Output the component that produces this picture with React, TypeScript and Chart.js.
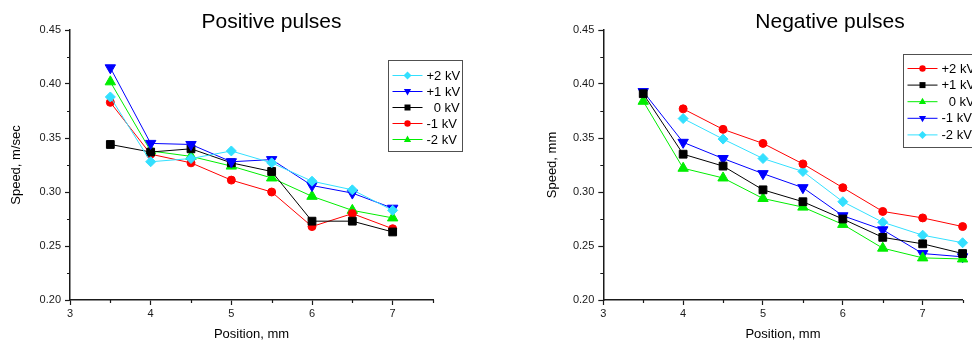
import React, { useEffect, useRef } from 'react';
import { Chart, registerables } from 'chart.js';

Chart.register(...registerables);

const FONT = 'Arial, "Liberation Sans", Helvetica, sans-serif';
const INK = '#1a1a1a';

// ---------- Data: Positive pulses (left) ----------
const positiveTitle = 'Positive pulses';
const positiveYTitle = 'Speed, m/sec';
const positivePositions = [3.5, 4, 4.5, 5, 5.5, 6, 6.5, 7];
const positiveLabels = ['+2 kV', '+1 kV', '  0 kV', '-1 kV', '-2 kV'];
const posPlus2kV = [0.388, 0.328, 0.331, 0.338, 0.327, 0.310, 0.302, 0.283];
const posPlus1kV = [0.415, 0.345, 0.344, 0.328, 0.330, 0.306, 0.299, 0.285];
const posZero = [0.344, 0.337, 0.340, 0.327, 0.319, 0.273, 0.273, 0.263];
const posMinus1kV = [0.383, 0.335, 0.327, 0.311, 0.300, 0.268, 0.280, 0.266];
const posMinus2kV = [0.402, 0.338, 0.333, 0.324, 0.313, 0.296, 0.283, 0.276];

// ---------- Data: Negative pulses (right) ----------
const negativeTitle = 'Negative pulses';
const negativeYTitle = 'Speed, mm';
const negativePositions = [3.5, 4, 4.5, 5, 5.5, 6, 6.5, 7, 7.5];
const negativeLabels = ['+2 kV', '+1 kV', '  0 kV', '-1 kV', '-2 kV'];
const negPlus2kV = [null, 0.377, 0.358, 0.345, 0.326, 0.304, 0.282, 0.276, 0.268];
const negPlus1kV = [0.391, 0.335, 0.324, 0.302, 0.291, 0.275, 0.258, 0.252, 0.243];
const negZero = [0.384, 0.322, 0.313, 0.294, 0.286, 0.270, 0.248, 0.239, 0.238];
const negMinus1kV = [0.393, 0.346, 0.331, 0.317, 0.304, 0.278, 0.265, 0.243, 0.240];
const negMinus2kV = [null, 0.368, 0.349, 0.331, 0.319, 0.291, 0.272, 0.260, 0.253];

// ---------- Axes ----------
const xAxisTitle = 'Position, mm';
const xLabelValues = [3, 4, 5, 6, 7];
const yLabelValues = [0.2, 0.25, 0.3, 0.35, 0.4, 0.45];

// ---------- Styles ----------
type Shape = 'diamond' | 'down' | 'square' | 'circle' | 'up';
const CYAN = '#33e0ff';
const BLUE = '#0000ff';
const BLACK = '#000000';
const RED = '#ff0000';
const GREEN = '#00ee00';

const positiveColors = [CYAN, BLUE, BLACK, RED, GREEN];
const positiveShapes: Shape[] = ['diamond', 'down', 'square', 'circle', 'up'];
const negativeColors = [RED, BLACK, GREEN, BLUE, CYAN];
const negativeShapes: Shape[] = ['circle', 'square', 'up', 'down', 'diamond'];

const shapeToPoint = (s: Shape) => {
  switch (s) {
    case 'diamond': return { pointStyle: 'rectRot', rotation: 0, radius: 5 };
    case 'down': return { pointStyle: 'triangle', rotation: 180, radius: 6 };
    case 'square': return { pointStyle: 'rect', rotation: 0, radius: 5.5 };
    case 'circle': return { pointStyle: 'circle', rotation: 0, radius: 4 };
    default: return { pointStyle: 'triangle', rotation: 0, radius: 6 };
  }
};

const isLabelled = (v: number, list: number[]) => list.some((l) => Math.abs(l - v) < 1e-9);

function drawMarker(ctx: CanvasRenderingContext2D, shape: Shape, x: number, y: number, r: number, color: string) {
  ctx.beginPath();
  if (shape === 'circle') {
    ctx.arc(x, y, r, 0, Math.PI * 2);
  } else if (shape === 'square') {
    ctx.rect(x - r, y - r, 2 * r, 2 * r);
  } else if (shape === 'diamond') {
    ctx.moveTo(x, y - r); ctx.lineTo(x + r, y); ctx.lineTo(x, y + r); ctx.lineTo(x - r, y);
    ctx.closePath();
  } else if (shape === 'up') {
    ctx.moveTo(x, y - r); ctx.lineTo(x + r * 0.9, y + r * 0.6); ctx.lineTo(x - r * 0.9, y + r * 0.6);
    ctx.closePath();
  } else {
    ctx.moveTo(x, y + r); ctx.lineTo(x + r * 0.9, y - r * 0.6); ctx.lineTo(x - r * 0.9, y - r * 0.6);
    ctx.closePath();
  }
  ctx.fillStyle = color;
  ctx.fill();
}

const decoPlugin = {
  id: 'deco',
  afterDraw(chart: any, _args: any, opts: any) {
    const { ctx, chartArea } = chart;
    const xs = chart.scales.x;
    const ys = chart.scales.y;
    ctx.save();
    // minor ticks
    ctx.strokeStyle = INK;
    ctx.lineWidth = 1.2;
    ctx.beginPath();
    xs.ticks.forEach((t: any) => {
      if (!isLabelled(t.value, xLabelValues)) {
        const px = Math.round(xs.getPixelForValue(t.value)) + 0.5;
        ctx.moveTo(px, chartArea.bottom);
        ctx.lineTo(px, chartArea.bottom + 3);
      }
    });
    ys.ticks.forEach((t: any) => {
      if (!isLabelled(t.value, yLabelValues)) {
        const py = Math.round(ys.getPixelForValue(t.value)) + 0.5;
        ctx.moveTo(chartArea.left, py);
        ctx.lineTo(chartArea.left - 3, py);
      }
    });
    ctx.stroke();

    // title
    ctx.font = `21px ${FONT}`;
    ctx.fillStyle = '#000';
    ctx.textAlign = 'center';
    ctx.textBaseline = 'alphabetic';
    ctx.fillText(opts.title, chartArea.left + opts.titleDx, opts.titleY);

    // legend
    const bx = Math.round(chartArea.left + opts.legendDx) + 0.5;
    const by = opts.legendY + 0.5;
    ctx.strokeStyle = '#505050';
    ctx.lineWidth = 1;
    ctx.strokeRect(bx, by, opts.legendW, opts.legendH);
    ctx.font = `13px ${FONT}`;
    ctx.textAlign = 'left';
    ctx.textBaseline = 'middle';
    chart.data.datasets.forEach((ds: any, i: number) => {
      const y = by + opts.rowFirst + i * opts.rowGap;
      ctx.strokeStyle = ds.borderColor;
      ctx.lineWidth = 1;
      ctx.beginPath();
      ctx.moveTo(bx + 4, y);
      ctx.lineTo(bx + 34, y);
      ctx.stroke();
      const shape: Shape = opts.shapes[i];
      const r = shape === 'square' ? 3 : shape === 'circle' ? 3.2 : 4;
      drawMarker(ctx, shape, bx + 19, y, r, ds.borderColor);
      ctx.fillStyle = '#000';
      ctx.fillText(ds.label, bx + 38, y + 0.5);
    });
    ctx.restore();
  },
};

type Spec = {
  positions: number[];
  series: (number | null)[][];
  labels: string[];
  colors: string[];
  shapes: Shape[];
  yTitle: string;
  yTitlePad: number;
  padLeft: number;
  padRight: number;
  deco: any;
};

function makeConfig(spec: Spec): any {
  const datasets = spec.series.map((vals, i) => {
    const p = shapeToPoint(spec.shapes[i]);
    return {
      label: spec.labels[i],
      data: spec.positions
        .map((x, j) => ({ x, y: vals[j] }))
        .filter((d) => d.y !== null),
      borderColor: spec.colors[i],
      backgroundColor: spec.colors[i],
      borderWidth: 1,
      pointStyle: p.pointStyle,
      pointRotation: p.rotation,
      pointRadius: p.radius,
      pointBackgroundColor: spec.colors[i],
      pointBorderColor: spec.colors[i],
      pointBorderWidth: 1,
      tension: 0,
      clip: false,
    };
  });
  const tickFont = { family: FONT, size: 11 };
  return {
    type: 'line',
    data: { datasets },
    plugins: [decoPlugin],
    options: {
      responsive: false,
      animation: false,
      devicePixelRatio: 1,
      events: [],
      layout: { padding: { left: spec.padLeft, right: spec.padRight, top: 30, bottom: 0 } },
      plugins: {
        legend: { display: false },
        title: { display: false },
        tooltip: { enabled: false },
        deco: { ...spec.deco, shapes: spec.shapes },
      },
      scales: {
        x: {
          type: 'linear',
          min: 3,
          max: 7.5,
          afterFit: (s: any) => { s.height = 43; },
          ticks: {
            stepSize: 0.5,
            autoSkip: false,
            maxRotation: 0,
            padding: 2,
            color: INK,
            font: tickFont,
            callback: (v: number) => (isLabelled(v, xLabelValues) ? String(Math.round(v)) : ''),
          },
          grid: {
            drawOnChartArea: false,
            drawTicks: true,
            tickLength: 5,
            tickWidth: 1.2,
            tickColor: (c: any) => (c.tick && isLabelled(c.tick.value, xLabelValues) ? INK : 'rgba(0,0,0,0)'),
          },
          border: { display: true, color: INK, width: 1.5 },
          title: { display: true, text: xAxisTitle, color: '#000', font: { family: FONT, size: 13 }, padding: { top: 0, bottom: 1 } },
        },
        y: {
          type: 'linear',
          min: 0.2,
          max: 0.45,
          afterFit: (s: any) => { s.width = 70; },
          ticks: {
            stepSize: 0.025,
            autoSkip: false,
            padding: 4,
            color: INK,
            font: tickFont,
            callback: (v: number) => (isLabelled(v, yLabelValues) ? v.toFixed(2) : ''),
          },
          grid: {
            drawOnChartArea: false,
            drawTicks: true,
            tickLength: 5,
            tickWidth: 1.2,
            tickColor: (c: any) => (c.tick && isLabelled(c.tick.value, yLabelValues) ? INK : 'rgba(0,0,0,0)'),
          },
          border: { display: true, color: INK, width: 1.5 },
          title: { display: true, text: spec.yTitle, color: '#000', font: { family: FONT, size: 13 }, padding: { top: spec.yTitlePad, bottom: 0 } },
        },
      },
    },
  };
}

function ChartCanvas({ left, width, spec }: { left: number; width: number; spec: Spec }) {
  const ref = useRef<HTMLCanvasElement>(null);
  useEffect(() => {
    if (!ref.current) return;
    const chart = new Chart(ref.current, makeConfig(spec));
    return () => chart.destroy();
  }, []);
  return (
    <canvas
      ref={ref}
      width={width}
      height={343}
      style={{ position: 'absolute', left, top: 0, width, height: 343, display: 'block' }}
    />
  );
}

const positiveSpec: Spec = {
  positions: positivePositions,
  series: [posPlus2kV, posPlus1kV, posZero, posMinus1kV, posMinus2kV],
  labels: positiveLabels,
  colors: positiveColors,
  shapes: positiveShapes,
  yTitle: positiveYTitle,
  yTitlePad: 9,
  padLeft: 0,
  padRight: 57,
  deco: { title: positiveTitle, titleDx: 201.5, titleY: 28, legendDx: 318, legendY: 60, legendW: 74, legendH: 91, rowFirst: 15, rowGap: 16 },
};

const negativeSpec: Spec = {
  positions: negativePositions,
  series: [negPlus2kV, negPlus1kV, negZero, negMinus1kV, negMinus2kV],
  labels: negativeLabels,
  colors: negativeColors,
  shapes: negativeShapes,
  yTitle: negativeYTitle,
  yTitlePad: 11,
  padLeft: 43.3,
  padRight: 47.4,
  deco: { title: negativeTitle, titleDx: 226.7, titleY: 28, legendDx: 300, legendY: 54, legendW: 74, legendH: 93, rowFirst: 14, rowGap: 16.6 },
};

export default function App() {
  useEffect(() => {
    document.body.style.margin = '0';
  }, []);
  return (
    <div style={{ position: 'relative', width: 972, height: 343, overflow: 'hidden', background: '#fff' }}>
      <ChartCanvas left={0} width={490} spec={positiveSpec} />
      <ChartCanvas left={490} width={520} spec={negativeSpec} />
    </div>
  );
}
